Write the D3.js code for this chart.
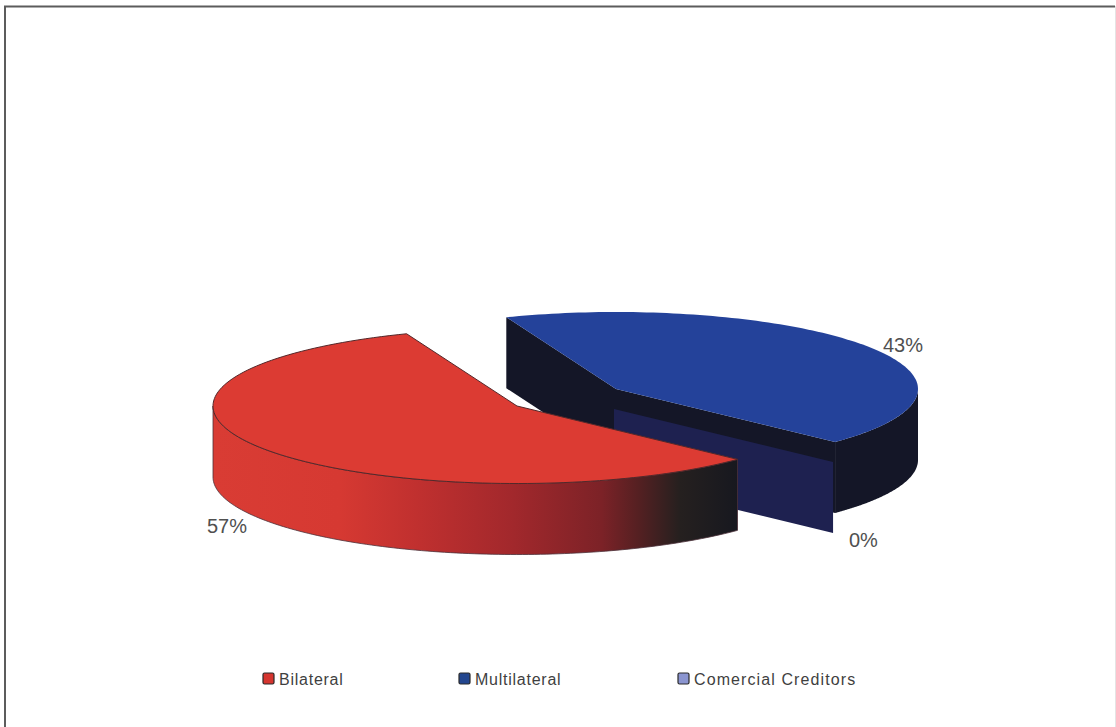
<!DOCTYPE html>
<html>
<head>
<meta charset="utf-8">
<style>
  html, body { margin: 0; padding: 0; background: #fff; }
  svg { display: block; }
  text { font-family: "Liberation Sans", Arial, sans-serif; }
</style>
<script src="https://cdn.jsdelivr.net/npm/d3@7"></script>
</head>
<body>
<svg id="chart" width="1116" height="727"></svg>
<script>
const categories = ["Bilateral", "Multilateral", "Comercial Creditors"];
const shares = [57, 43, 0];
const shareLabels = ["57%", "43%", "0%"];
const topColors = ["#dc3b33", "#24429a", "#8b95d0"];
const legendColors = ["#d5352f", "#23468f", "#8b95d0"];
const bilateralRimStops = [
  [0, "#d93c34"], [0.24, "#d63932"], [0.39, "#c0302f"], [0.57, "#a2282c"],
  [0.74, "#7c2227"], [0.81, "#552022"], [0.89, "#25201f"], [1, "#17181f"]
];

const svg = d3.select("#chart");
const defs = svg.append("defs");

// Border of the chart area
svg.append("path")
  .attr("d", "M5,727V6.5H1115")
  .attr("fill", "none").attr("stroke", "#5c5c5c").attr("stroke-width", 2);
svg.append("path")
  .attr("d", "M1115.5,6V727")
  .attr("fill", "none").attr("stroke", "#e4e4e4").attr("stroke-width", 1);

// Tilted pie: slices laid out by d3.pie, then projected onto an ellipse.
// Angles run clockwise from twelve o'clock, the same as d3.arc.
const tilt = 0.255, depth = 71;
const startAngle = 133.5 * Math.PI / 180;
const arcs = d3.pie().sort(null).startAngle(startAngle).endAngle(startAngle + 2 * Math.PI)(shares);

const slices = [
  { cx: 517, cy: 406, r: 304 },
  { cx: 616, cy: 389, r: 302 },
  { cx: 614, cy: 409, r: 302 }
];

const point = (a, s) => [s.cx + s.r * Math.sin(a), s.cy - s.r * tilt * Math.cos(a)];
const rim = (a0, a1, s) => d3.range(0, 121).map(i => point(a0 + (a1 - a0) * i / 120, s));
const drop = p => [p[0], p[1] + depth];
const line = d3.line();
const HALF = Math.PI / 2;

// The part of a slice's outer wall that faces the viewer: between 90° and 270°,
// also trying the range one turn on for slices that wrap past twelve o'clock
function frontWall(d, s) {
  for (const shift of [0, 2 * Math.PI]) {
    const a0 = Math.max(d.startAngle, HALF + shift);
    const a1 = Math.min(d.endAngle, 3 * HALF + shift);
    if (a1 > a0) {
      const edge = rim(a0, a1, s);
      return edge.concat(edge.slice().reverse().map(drop));
    }
  }
  return [];
}

function cutFace(angle, s) {
  const c = [s.cx, s.cy], p = point(angle, s);
  return [c, p, drop(p), drop(c)];
}

function topFace(d, s) {
  return [[s.cx, s.cy]].concat(rim(d.startAngle, d.endAngle, s));
}

defs.append("linearGradient").attr("id", "rimBilateral")
  .attr("gradientUnits", "userSpaceOnUse")
  .attr("x1", 213).attr("x2", 738).attr("y1", 0).attr("y2", 0)
  .selectAll("stop").data(bilateralRimStops).join("stop")
  .attr("offset", d => d[0]).attr("stop-color", d => d[1]);

const area = (pts, fill) => svg.append("path").attr("d", line(pts) + "Z").attr("fill", fill);

// Multilateral: pulled out to the upper right
const wallDark = "#141627";
area(cutFace(arcs[1].startAngle, slices[1]), wallDark);
area(cutFace(arcs[1].endAngle, slices[1]), wallDark);
area(frontWall(arcs[1], slices[1]), wallDark);

// Comercial Creditors: a zero-width slice, only its cut face shows
area(cutFace(arcs[2].startAngle, slices[2]), "#1e2150");

area(topFace(arcs[1], slices[1]), topColors[1]);

// Bilateral sits in front of the others
area(frontWall(arcs[0], slices[0]), "url(#rimBilateral)")
  .attr("stroke", "#4b3038").attr("stroke-width", 0.8);
area(topFace(arcs[0], slices[0]), topColors[0])
  .attr("stroke", "#54282a").attr("stroke-width", 1);

// Percentage labels
const labelSpots = [[207, 533], [883, 352], [849, 547]];
svg.selectAll(".share").data(shareLabels).join("text")
  .attr("class", "share")
  .attr("x", (d, i) => labelSpots[i][0]).attr("y", (d, i) => labelSpots[i][1])
  .attr("font-size", 20).attr("fill", "#505050").text(d => d);

// Legend
const legendX = [263, 459, 678];
const legendSpacing = [0.75, 0.75, 1.1];
const legend = svg.selectAll(".key").data(categories).join("g")
  .attr("class", "key")
  .attr("transform", (d, i) => `translate(${legendX[i]},673)`);
legend.append("rect").attr("width", 11).attr("height", 11).attr("rx", 1.5)
  .attr("fill", (d, i) => legendColors[i]).attr("stroke", "#2a2a2a").attr("stroke-width", 1.2);
legend.append("text").attr("x", 16).attr("y", 12)
  .attr("font-size", 16).attr("letter-spacing", (d, i) => legendSpacing[i])
  .attr("fill", "#3f3f3f").text(d => d);
</script>
</body>
</html>
